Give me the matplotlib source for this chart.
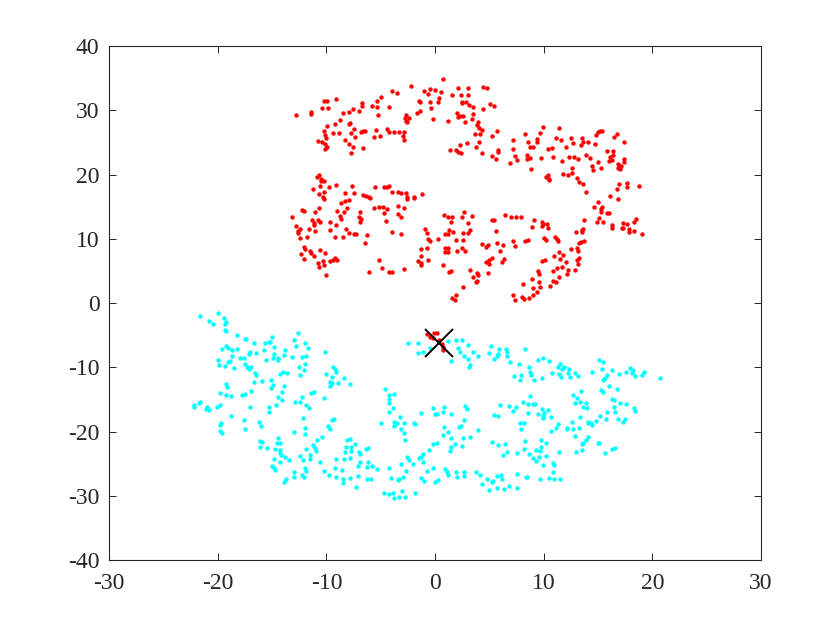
import matplotlib
matplotlib.use("Agg")
import matplotlib.pyplot as plt

# ---------------- data ----------------
red_a = [(-12.79,29.26),(-11.44,29.67),(-11.44,29.41),(-10.27,31.44),(-9.97,31.44),(-9.11,31.75),
         (-10.43,30.40),(-9.87,30.40),(-8.49,29.52),(-7.97,29.67),(-7.57,30.14),(-7.05,29.93),
         (-6.71,31.07),(-6.71,30.71),(-5.79,30.71),(-5.36,31.49),(-5.00,32.01),(-5.36,30.45),
         (-4.29,30.45),(-3.98,32.99),(-3.52,32.63),(-5.30,29.21),(-8.74,28.48),(-9.20,27.81),
         (-9.97,27.55),(-7.97,27.81),(-7.82,28.07),(-7.45,27.08),(-6.65,26.77),(-6.44,26.77),
         (-6.81,26.56),(-5.43,26.87),(-4.44,27.03),(-4.29,26.66),(-3.83,26.66),(-3.37,26.66),
         (-10.27,26.77),(-10.12,26.15),(-10.06,25.63),(-9.41,26.41),(-8.89,26.41),(-10.82,25.16),
         (-10.43,25.06),(-10.12,24.75),(-10.18,24.02),(-9.97,24.23),(-8.25,25.37),(-7.76,26.41),
         (-7.36,25.78),(-7.97,24.75),(-7.57,24.33),(-7.73,23.29),(-6.65,24.07),(-5.67,25.78),
         (-5.06,25.99),(-10.89,19.56),(-10.73,19.92),(-10.52,19.30)]

red_b = [(-2.24,33.82),(0.77,34.81),(-1.01,33.04),(-0.46,33.25),(0.00,33.15),(0.58,32.84),
         (-0.70,32.47),(-1.50,31.44),(-1.38,31.23),(-0.46,31.33),(0.34,31.85),(0.22,31.33),
         (1.53,32.32),(2.09,33.51),(3.07,33.41),(2.39,32.37),(3.07,32.37),(4.45,33.67),
         (4.76,33.41),(2.49,31.33),(2.82,31.23),(2.45,31.07),(3.16,30.81),(3.53,30.55),
         (5.06,30.92),(5.46,30.66),(4.39,30.19),(-2.67,29.26),(-2.45,28.74),(-2.76,28.74),
         (-2.61,28.12),(-2.67,28.38),(-1.69,29.62),(-1.38,29.93),(-0.37,30.30),(-0.18,28.58),
         (-2.85,26.66),(-2.97,25.99),(-2.91,25.37),(1.14,28.27),(1.99,29.52),(2.30,29.15),
         (2.55,29.15),(2.15,29.00),(2.76,28.12),(3.38,28.58),(3.47,29.36),(3.99,28.22),
         (3.90,27.70),(4.02,27.18),(4.30,26.92),(4.14,26.25),(3.68,26.25),(5.74,26.72),
         (5.22,26.04),(4.08,25.11),(3.77,24.23),(2.91,24.95),(2.30,24.59),(1.38,23.81),
         (1.93,23.81),(2.15,23.55),(2.39,23.29),(4.36,23.40),(5.77,23.76),(5.83,23.55),
         (5.22,22.88),(5.58,22.36),(7.21,25.37),(7.15,23.97),(7.36,22.88),(7.52,22.26),
         (6.90,21.74)]

red_c = [(8.25,26.25),(8.56,25.00),(8.74,24.33),(8.99,24.23),(9.35,25.47),(9.42,25.06),
         (9.66,26.41),(9.91,27.34),(8.49,23.03),(8.49,22.36),(8.74,22.62),(9.72,22.52),
         (8.80,20.80),(10.43,23.92),(10.73,24.17),(10.89,22.77),(11.13,25.63),(11.44,27.29),
         (11.56,25.37),(11.65,22.15),(12.05,24.23),(12.51,25.73),(12.67,24.95),(12.36,22.77),
         (12.79,22.67),(13.13,22.41),(12.64,21.06),(12.57,20.18),(12.27,19.87),(11.81,20.08),
         (10.21,19.66),(10.43,19.92),(10.52,19.30),(13.49,25.63),(13.65,25.11),(13.40,24.54),
         (14.11,25.00),(14.72,24.80),(14.81,26.15),(15.03,26.56),(15.18,26.77),(15.40,26.82),
         (13.89,23.03),(14.26,22.52),(14.42,21.32),(14.51,20.70),(14.97,22.00),(15.27,21.01),
         (15.80,23.71),(16.41,23.66),(16.47,25.89),(16.78,26.25),(17.42,25.06),(16.10,22.77),
         (16.41,23.03),(16.04,22.10),(16.29,22.26),(16.87,21.63),(16.87,20.96),(17.02,20.80),
         (17.11,21.32),(17.42,22.36),(17.42,21.89),(13.10,19.40)]

red_d = [(-11.25,17.74),(-10.58,18.26),(-10.52,19.04),(-10.21,19.04),(-9.81,18.00),(-9.11,18.41),
         (-7.66,18.21),(-10.27,17.22),(-10.67,16.91),(-10.33,16.44),(-10.27,16.13),(-8.28,17.07),
         (-7.51,17.07),(-6.65,16.86),(-6.35,16.70),(-6.13,16.44),(-5.98,16.29),(-5.49,18.00),
         (-4.69,18.00),(-4.44,18.10),(-4.20,18.26),(-3.98,17.22),(-3.46,17.22),(-8.62,15.51),
         (-8.28,15.92),(-7.97,16.03),(-8.13,14.84),(-8.43,14.21),(-8.80,13.59),(-8.68,13.07),
         (-9.05,14.32),(-10.67,14.73),(-11.10,14.11),(-12.27,14.47),(-12.11,14.37),(-13.19,13.33),
         (-12.79,11.98),(-12.66,11.20),(-12.66,10.95),(-12.42,11.46),(-12.48,10.06),(-11.81,10.22),
         (-11.65,11.52),(-11.35,12.92),(-11.19,12.40),(-11.19,12.14),(-11.10,11.26),(-10.82,12.92),
         (-10.58,12.55),(-9.66,12.55),(-9.11,12.19),(-9.72,11.36),(-8.22,11.52),(-7.97,10.95),
         (-7.45,10.74),(-7.27,10.69),(-6.90,14.21),(-6.99,13.43),(-6.84,13.07),(-6.90,12.55),
         (-6.28,10.58),(-6.50,9.39),(-9.20,10.22),(-8.49,10.22),(-5.67,14.73),(-5.21,14.99),
         (-4.84,14.99),(-4.44,14.63),(-4.69,13.95),(-4.51,12.76),(-3.46,15.09),(-3.46,13.85),
         (-3.95,11.10),(-12.11,8.77),(-11.96,8.46),(-11.56,8.14),(-11.44,7.83),(-11.13,7.31),
         (-10.58,8.25),(-10.18,7.73),(-12.36,7.57),(-12.11,6.85),(-10.33,6.59),(-10.82,6.17),
         (-10.73,5.65),(-10.27,5.86),(-9.72,6.48),(-9.41,6.69),(-9.20,7.05),(-9.05,6.69),
         (-10.06,4.36),(-5.15,6.69),(-4.90,5.45),(-6.07,4.82),(-4.29,4.87),(-3.95,4.87)]

red_e = [(-3.13,17.07),(-2.70,17.07),(-2.55,16.55),(-2.55,16.24),(-1.99,16.29),(-1.93,16.55),
         (-1.23,16.91),(-2.82,14.73),(-3.13,13.43),(-3.13,10.74),(-2.85,5.24),(0.83,13.69),
         (1.23,13.33),(1.53,13.33),(1.44,12.66),(2.45,13.43),(2.70,14.21),(3.38,13.54),
         (3.01,12.40),(3.22,11.36),(2.61,10.95),(3.01,10.84),(-0.92,11.46),(-0.77,10.84),
         (-0.70,9.91),(-0.46,9.70),(0.31,9.91),(0.92,10.74),(1.17,10.69),(1.29,11.36),
         (1.60,11.10),(1.93,9.80),(2.61,9.80),(-1.32,8.35),(-0.77,8.51),(-1.32,7.31),
         (-1.62,6.59),(-1.32,6.28),(-0.70,6.69),(-1.32,5.91),(0.92,8.51),(1.17,8.51),
         (0.92,7.99),(1.23,7.99),(1.99,8.14),(2.49,8.51),(2.76,8.14),(0.71,5.91),
         (1.32,4.88),(1.44,5.03),(3.22,5.14),(3.53,4.10),(3.84,4.62),(3.99,4.36),
         (3.90,3.42),(3.77,3.22),(2.61,2.54),(1.93,1.25),(1.53,0.73),(1.84,0.47),
         (4.33,9.18),(4.69,8.66),(4.91,9.03),(5.22,12.92),(5.43,12.92),(5.58,11.20),
         (5.74,9.29),(5.98,8.09),(6.29,9.03),(6.47,13.64),(6.99,13.33),(7.45,13.33),
         (5.22,6.95),(5.00,6.69),(4.69,6.43),(5.00,6.02),(6.35,6.80),(6.20,6.33),
         (4.91,4.62),(7.15,9.65),(7.39,8.87),(7.21,1.25),(7.33,0.47)]

red_f = [(10.52,19.14),(13.28,18.88),(13.59,18.52),(13.86,17.32),(16.96,18.47),(17.64,18.62),
         (17.64,18.00),(18.77,18.26),(16.72,17.74),(16.10,16.65),(16.81,16.18),(15.03,15.77),
         (14.63,14.89),(15.34,14.99),(15.24,14.58),(15.24,14.11),(15.80,13.95),(16.04,13.95),
         (7.91,13.43),(9.11,12.92),(8.89,11.77),(9.81,12.55),(9.97,12.24),(10.34,12.29),
         (9.88,11.98),(10.37,11.72),(13.74,12.92),(15.09,13.18),(14.94,12.55),(15.43,12.66),
         (16.26,12.14),(16.26,11.62),(17.27,12.50),(17.70,12.24),(18.34,12.66),(18.49,13.02),
         (17.18,11.72),(17.33,11.72),(17.88,11.46),(17.85,11.10),(18.34,11.20),(19.05,10.74),
         (12.97,11.10),(13.49,11.36),(13.65,11.46),(13.56,11.10),(8.28,9.65),(8.59,9.80),
         (10.06,10.06),(10.21,9.80),(11.04,10.22),(11.26,9.91),(11.35,9.70),(13.43,9.54),
         (13.74,9.70),(13.28,9.29),(12.51,8.40),(13.03,8.61),(13.19,8.14),(11.41,7.88),
         (10.98,7.31),(11.75,7.47),(11.50,6.85),(12.02,6.43),(13.03,6.69),(13.25,7.05),
         (13.13,6.02),(12.88,5.14),(9.81,6.54),(10.12,6.69),(9.51,5.03),(9.60,4.51),
         (10.83,5.03),(11.26,5.40),(11.72,5.65),(12.21,5.14),(12.11,4.46),(11.44,4.00),
         (10.89,3.48),(11.13,3.22),(10.58,2.70),(8.95,3.68),(9.57,3.22),(8.13,2.90),
         (8.99,2.39),(9.66,2.44),(9.35,1.66),(9.05,1.25),(7.97,0.88),(8.19,0.57),(8.68,0.73)]

red_g = [(-0.76,-4.87),(-0.46,-5.24),(-0.06,-4.72),(0.16,-4.72),(-0.15,-5.50),
         (0.37,-5.76),(0.62,-6.43),(0.77,-6.79),(0.68,-7.31)]

cyan_a = [(-21.62,-2.02),(-20.02,-1.61),(-20.85,-2.75),(-20.45,-3.32),(-19.47,-2.38),(-19.26,-3.01),
          (-19.38,-3.27),(-19.38,-4.20),(-19.23,-4.36),(-18.25,-4.98),(-17.48,-5.60),(-17.39,-5.60),
          (-16.71,-6.27),(-15.02,-5.24),(-15.33,-6.02),(-15.64,-6.27),(-15.18,-6.12),(-14.87,-6.79),
          (-15.79,-7.31),(-16.47,-7.83),(-17.02,-7.57),(-17.17,-7.99),(-18.25,-7.16),(-18.71,-7.31),
          (-18.71,-8.19),(-19.23,-6.64),(-19.10,-7.05),(-19.63,-7.16),(-20.02,-8.87),(-19.93,-9.65),
          (-19.32,-9.75),(-19.10,-9.13),(-18.86,-9.02),(-18.55,-10.06),(-17.94,-8.61),(-17.63,-8.61),
          (-17.48,-9.49),(-17.33,-9.91),(-16.96,-9.91),(-17.17,-10.32),(-16.56,-10.94),(-16.47,-11.20),
          (-15.98,-12.14),(-16.65,-12.24),(-15.55,-8.87),(-14.93,-8.61),(-14.81,-7.93),(-14.50,-8.61),
          (-14.50,-8.87),(-13.80,-7.31),(-13.89,-8.09),(-13.18,-8.35),(-12.66,-4.72),(-12.97,-5.76),
          (-12.82,-6.69),(-12.02,-6.17),(-11.74,-7.05),(-11.87,-8.19),(-12.26,-8.45),(-12.51,-10.01),
          (-11.96,-9.54),(-12.11,-10.42),(-12.48,-11.20),(-13.64,-10.94),(-14.01,-10.68),(-14.26,-11.05),
          (-15.12,-11.98),(-14.93,-12.76),(-15.09,-13.17),(-13.95,-12.86),(-14.10,-13.80),(-14.50,-14.57),
          (-12.23,-14.68),(-11.41,-14.05),(-11.19,-13.80),(-10.27,-14.73),(-10.12,-7.68),(-10.02,-11.05),
          (-9.41,-10.01),(-9.20,-10.32),(-9.10,-10.68),(-9.50,-11.46),(-9.66,-12.24),(-9.50,-12.50),
          (-9.66,-12.91),(-8.95,-12.40),(-8.37,-11.62),(-19.23,-12.60),(-19.17,-13.02),(-19.84,-14.05),
          (-19.23,-14.31),(-18.80,-14.47),(-17.79,-14.31),(-17.54,-14.21),(-16.93,-13.69)]

cyan_b = [(-2.54,-6.27),(-1.59,-6.17),(-1.62,-7.83),(-1.13,-7.68),(-0.46,-7.05),(1.23,-5.91),
          (1.93,-5.76),(2.46,-5.76),(2.15,-6.95),(2.30,-7.57),(2.67,-8.19),(3.07,-6.53),
          (3.53,-7.57),(3.93,-8.19),(3.07,-8.76),(3.13,-9.91),(3.25,-9.65),(1.47,-9.02),
          (5.13,-6.69),(5.92,-7.16),(5.83,-7.99),(5.68,-8.19),(5.46,-8.71),(5.00,-7.73),
          (-7.82,-12.65),(-4.60,-13.43),(-4.20,-14.31),(-3.77,-14.16),(-4.20,-14.99)]

cyan_c = [(6.53,-7.21),(6.65,-7.57),(6.59,-8.25),(8.28,-7.16),(6.90,-9.23),(7.76,-9.49),
          (8.68,-9.91),(8.74,-10.68),(8.80,-11.20),(9.11,-11.98),(7.30,-11.31),(7.82,-11.98),
          (7.91,-11.20),(9.51,-8.87),(9.97,-8.51),(10.52,-9.02),(9.81,-11.72),(10.73,-10.94),
          (11.35,-10.01),(11.50,-9.54),(11.87,-10.01),(11.72,-10.27),(11.44,-11.05),(11.59,-11.46),
          (12.36,-10.27),(12.27,-10.94),(12.42,-11.57),(12.88,-10.94),(13.13,-11.31),(14.42,-10.68),
          (15.12,-8.87),(15.43,-9.13),(15.34,-10.27),(16.26,-10.42),(15.80,-11.20),(15.64,-11.62),
          (15.43,-11.98),(16.04,-12.91),(15.27,-13.54),(15.49,-13.90),(16.72,-13.38),(16.96,-11.05),
          (17.58,-10.68),(17.94,-10.16),(18.19,-10.42),(18.10,-10.84),(18.40,-11.36),(19.02,-11.20),
          (19.23,-10.79),(20.70,-11.72),(8.74,-14.42),(12.67,-14.31),(13.10,-14.73),(13.40,-13.64),
          (16.26,-14.99)]

cyan_d = [(-22.17,-15.88),(-22.17,-16.24),(-21.77,-15.62),(-21.68,-15.36),(-21.07,-16.50),(-20.85,-16.66),
          (-21.01,-16.14),(-20.09,-16.14),(-19.84,-15.88),(-17.08,-16.14),(-15.27,-16.24),(-15.33,-16.92),
          (-14.63,-15.88),(-14.10,-15.10),(-12.88,-15.36),(-12.42,-15.36),(-11.87,-15.88),(-11.65,-16.40),
          (-18.77,-17.59),(-17.57,-18.21),(-17.48,-19.61),(-16.25,-18.47),(-16.01,-19.09),(-19.69,-18.63),
          (-19.78,-18.99),(-19.78,-19.87),(-19.63,-20.29),(-16.16,-21.48),(-15.94,-21.69),(-16.10,-22.36),
          (-15.48,-22.62),(-14.50,-20.96),(-14.56,-21.74),(-14.32,-21.74),(-14.72,-22.72),(-14.26,-22.88),
          (-14.32,-23.40),(-14.20,-23.66),(-13.80,-23.92),(-13.43,-24.44),(-14.26,-24.70),(-14.81,-24.33),
          (-15.02,-25.37),(-14.87,-25.73),(-14.72,-25.99),(-13.03,-20.03),(-12.20,-17.95),(-12.02,-19.51),
          (-12.02,-20.39),(-12.48,-23.81),(-12.17,-24.44),(-11.87,-22.78),(-11.56,-23.66),(-11.56,-24.28),
          (-11.25,-22.10),(-11.04,-22.62),(-10.94,-22.98),(-10.88,-21.32),(-10.42,-20.81),(-9.90,-19.15),
          (-9.72,-19.66),(-9.50,-18.21),(-9.29,-18.11),(-8.43,-24.33),(-9.14,-24.33),(-10.58,-24.80),
          (-10.27,-26.15),(-9.81,-26.77),(-9.14,-27.13),(-8.58,-25.99),(-8.49,-27.39),(-8.49,-27.96),
          (-9.20,-25.63),(-11.96,-25.73),(-11.87,-26.10),(-13.03,-26.25),(-12.97,-27.03),(-12.26,-26.77),
          (-12.05,-27.03),(-13.71,-27.44),(-13.89,-27.81)]

cyan_e = [(-4.20,-15.62),(-3.92,-16.40),(-4.29,-16.92),(-5.00,-18.73),(-3.74,-18.47),(-3.53,-18.63),
          (-3.83,-19.15),(-3.22,-17.69),(-2.85,-18.73),(-3.13,-19.66),(-2.82,-20.29),(-2.76,-21.32),
          (-1.93,-18.63),(-1.84,-18.89),(-1.32,-17.07),(-0.21,-16.40),(0.83,-16.14),(0.77,-17.02),
          (0.00,-17.28),(0.16,-17.28),(1.47,-17.33),(2.76,-16.03),(2.92,-16.55),(2.21,-19.25),
          (2.39,-19.15),(2.67,-18.21),(3.22,-20.81),(3.99,-19.77),(2.61,-21.06),(1.84,-21.95),
          (1.47,-21.06),(1.47,-22.36),(1.38,-22.98),(2.46,-22.26),(0.71,-20.55),(0.86,-19.35),
          (1.17,-20.03),(-0.24,-21.95),(0.16,-21.84),(-0.52,-22.88),(-1.16,-23.50),(-1.29,-24.02),
          (-1.44,-24.18),(-1.07,-24.80),(-8.13,-21.32),(-7.82,-21.17),(-8.19,-22.36),(-7.36,-22.00),
          (-7.73,-22.36),(-8.28,-23.24),(-7.88,-24.18),(-7.73,-22.98),(-7.05,-23.14),(-6.90,-23.50),
          (-6.38,-22.72),(-6.22,-22.52),(-6.90,-24.80),(-7.11,-25.32),(-6.19,-24.80),(-5.83,-25.37),
          (-5.37,-25.89),(-6.29,-25.47),(-2.61,-24.02),(-2.45,-24.44),(-2.05,-25.06),(-3.13,-25.06),
          (-4.20,-25.73),(-2.67,-26.10),(-4.05,-27.19),(-3.43,-27.55),(-3.31,-27.39),(-3.00,-27.03),
          (-1.29,-27.29),(-0.98,-27.70),(-0.76,-26.10),(-0.24,-25.73),(0.00,-27.81),(0.31,-27.55),
          (0.92,-25.89),(1.08,-26.36),(1.23,-26.77),(1.93,-26.25),(2.67,-26.25),(2.67,-26.93),
          (2.06,-27.03),(3.74,-26.25),(4.14,-26.77),(4.76,-27.39),(4.30,-28.17),(5.00,-29.10),
          (5.37,-27.70),(5.28,-27.91),(5.68,-26.87),(5.74,-28.84),(5.22,-21.69),(5.77,-22.10),
          (5.43,-17.43),(5.77,-17.59),(-7.82,-27.29),(-7.11,-26.87),(-6.29,-27.44),(-5.89,-27.44),
          (-7.30,-28.69),(-4.75,-29.62),(-4.29,-29.78),(-3.89,-29.52),(-3.06,-29.26),(-3.74,-30.40),
          (-3.31,-30.25),(-2.76,-30.14),(-1.84,-29.52)]

cyan_f = [(5.98,-15.88),(6.84,-15.98),(7.45,-16.14),(7.21,-16.76),(8.07,-15.46),(8.53,-17.17),
          (8.59,-15.77),(8.99,-15.77),(9.20,-15.77),(9.88,-16.50),(10.37,-16.66),(9.45,-17.33),
          (9.91,-17.54),(10.06,-17.07),(9.97,-17.85),(10.67,-17.69),(7.82,-18.73),(8.19,-18.63),
          (7.88,-19.61),(11.29,-18.89),(11.10,-19.51),(10.67,-19.92),(12.11,-19.40),(12.11,-19.66),
          (12.67,-19.66),(12.58,-18.58),(13.25,-19.40),(13.34,-17.80),(12.88,-15.51),(13.34,-15.36),
          (13.86,-15.62),(13.65,-16.14),(13.96,-16.29),(15.18,-17.54),(15.80,-16.92),(15.73,-18.11),
          (16.47,-16.24),(16.56,-16.92),(16.50,-15.10),(17.02,-15.62),(17.58,-15.72),(18.34,-16.40),
          (18.40,-16.81),(16.87,-18.06),(17.27,-18.47),(17.48,-18.11),(14.81,-18.37),(14.35,-18.63),
          (14.05,-18.73),(14.42,-18.99),(14.11,-18.47),(12.88,-20.70),(14.11,-20.81),(13.89,-21.32),
          (13.65,-21.84),(13.50,-21.95),(15.12,-21.84),(14.97,-21.84),(15.64,-23.40),(16.26,-22.72),
          (16.56,-22.52),(12.94,-23.14),(13.50,-22.88),(6.41,-21.95),(6.65,-23.14),(6.29,-23.66),
          (7.51,-23.40),(8.28,-21.43),(8.22,-22.78),(8.68,-23.50),(9.05,-24.18),(9.26,-24.59),
          (9.29,-22.88),(9.66,-22.98),(9.60,-23.92),(9.72,-22.36),(9.72,-21.32),(10.21,-21.84),
          (10.21,-23.76),(9.91,-25.21),(10.83,-24.85),(10.95,-25.21),(11.41,-23.14),(10.83,-26.36),
          (10.52,-27.19),(10.95,-27.39),(11.50,-27.44),(9.66,-27.44),(8.37,-27.13),(8.50,-27.03),
          (7.51,-26.61),(6.07,-26.77),(6.13,-27.44),(6.81,-28.43),(6.35,-29.00),(7.51,-28.84)]

centroid = (0.40, -6.28)

x_ticks = [-30, -20, -10, 0, 10, 20, 30]
y_ticks = [-40, -30, -20, -10, 0, 10, 20, 30, 40]

# ---------------- drawing ----------------
plt.rcParams['font.family'] = ['Liberation Serif', 'DejaVu Serif']
fig = plt.figure(figsize=(8.4, 6.3), dpi=100)
ax = fig.add_axes([0.130, 0.111, 0.776, 0.816])

red_pts = red_a + red_b + red_c + red_d + red_e + red_f + red_g
cyan_pts = cyan_a + cyan_b + cyan_c + cyan_d + cyan_e + cyan_f

ax.scatter([p[0] for p in cyan_pts], [p[1] for p in cyan_pts], s=10, c='#00ffff', linewidths=0)
ax.scatter([p[0] for p in red_pts], [p[1] for p in red_pts], s=10, c='#ff0000', linewidths=0)
ax.plot([centroid[0]], [centroid[1]], marker='x', color='k', markersize=20, markeredgewidth=1.4,
        linestyle='none')

ax.set_xlim(-30, 30)
ax.set_ylim(-40, 40)
ax.set_xticks(x_ticks)
ax.set_yticks(y_ticks)
ax.set_xticklabels([str(t) for t in x_ticks])
ax.set_yticklabels([str(t) for t in y_ticks])
ax.tick_params(direction='in', top=True, right=True, length=5, width=0.7,
               labelsize=17, colors='#262626')
ax.tick_params(axis='x', pad=9)
ax.tick_params(axis='y', pad=7)
for sp in ax.spines.values():
    sp.set_color('#262626')
    sp.set_linewidth(0.8)

fig.savefig('out.png', dpi=100)
